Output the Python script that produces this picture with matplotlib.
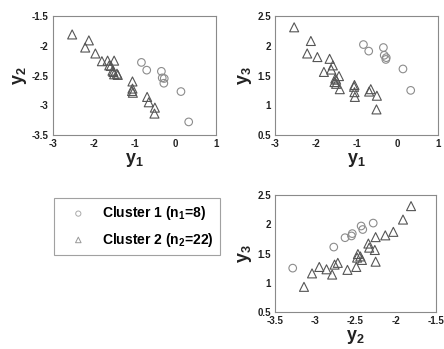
import matplotlib

matplotlib.use("Agg")
import matplotlib.pyplot as plt
import numpy as np

plt.rcParams["font.family"] = ["Liberation Sans", "DejaVu Sans"]
plt.rcParams["mathtext.fontset"] = "custom"
plt.rcParams["mathtext.rm"] = "Liberation Sans:bold"
plt.rcParams["mathtext.bf"] = "Liberation Sans:bold"
plt.rcParams["mathtext.default"] = "bf"

# Cluster 1 (circles)
c1_y1 = [-0.83, -0.70, -0.34, -0.32, -0.27, -0.28, 0.14, 0.33]
c1_y2 = [-2.28, -2.41, -2.43, -2.54, -2.55, -2.63, -2.77, -3.28]
c1_y3 = [2.02, 1.91, 1.97, 1.84, 1.80, 1.77, 1.61, 1.25]

# Cluster 2 (triangles)
c2_y1 = [-2.53, -2.12, -2.21, -1.96, -1.66, -1.58, -1.62, -1.80, -1.43, -1.50,
         -1.54, -1.41, -1.05, -1.05, -1.04, -0.69, -0.65, -0.50, -0.51, -1.50,
         -1.06, -1.52]
c2_y2 = [-1.81, -1.91, -2.03, -2.13, -2.25, -2.34, -2.33, -2.26, -2.47, -2.48,
         -2.42, -2.49, -2.72, -2.60, -2.79, -2.86, -2.95, -3.04, -3.14, -2.25,
         -2.76, -2.44]
c2_y3 = [2.31, 2.08, 1.87, 1.81, 1.78, 1.67, 1.60, 1.56, 1.49, 1.43,
         1.39, 1.27, 1.34, 1.22, 1.14, 1.23, 1.27, 1.16, 0.93, 1.36,
         1.31, 1.45]

labels = ["Cluster 1 (n$_1$=8)", "Cluster 2 (n$_2$=22)"]

W, H = 444, 349
fig = plt.figure(figsize=(W / 100, H / 100), dpi=100)


def make_ax(x0, y0, x1, y1):
    return fig.add_axes([x0 / W, 1 - y1 / H, (x1 - x0) / W, (y1 - y0) / H])


def style(ax, xlim, ylim, xticks, yticks, xlabel, ylabel):
    ax.set_xlim(*xlim)
    ax.set_ylim(*ylim)
    ax.set_xticks(xticks)
    ax.set_yticks(yticks)
    ax.set_xticklabels([f"{t:g}" for t in xticks])
    ax.set_yticklabels([f"{t:g}" for t in yticks])
    ax.tick_params(length=0, pad=3, labelsize=7, colors="#222222")
    for lab in ax.get_xticklabels() + ax.get_yticklabels():
        lab.set_fontweight("bold")
    for s in ax.spines.values():
        s.set_color("#8a8a8a")
        s.set_linewidth(0.8)
    ax.set_xlabel(xlabel, fontsize=13, fontweight="bold", labelpad=1, color="#222222")
    ax.set_ylabel(ylabel, fontsize=13, fontweight="bold", labelpad=2, color="#222222")


circ = dict(marker="o", s=30, facecolors="none", edgecolors="#8c8c8c", linewidths=0.8)
tri = dict(marker="^", s=42, facecolors="none", edgecolors="#555555", linewidths=0.8)

ax1 = make_ax(53, 16, 216, 135)
ax1.scatter(c1_y1, c1_y2, **circ)
ax1.scatter(c2_y1, c2_y2, **tri)
style(ax1, (-3, 1), (-3.5, -1.5), [-3, -2, -1, 0, 1], [-3.5, -3, -2.5, -2, -1.5],
      "y$_1$", "y$_2$")

ax2 = make_ax(275, 16, 438, 135)
ax2.scatter(c1_y1, c1_y3, **circ)
ax2.scatter(c2_y1, c2_y3, **tri)
style(ax2, (-3, 1), (0.5, 2.5), [-3, -2, -1, 0, 1], [0.5, 1, 1.5, 2, 2.5],
      "y$_1$", "y$_3$")

ax3 = make_ax(275, 195, 436, 312)
ax3.scatter(c1_y2, c1_y3, **circ)
ax3.scatter(c2_y2, c2_y3, **tri)
style(ax3, (-3.5, -1.5), (0.5, 2.5), [-3.5, -3, -2.5, -2, -1.5], [0.5, 1, 1.5, 2, 2.5],
      "y$_2$", "y$_3$")

h1 = ax1.scatter([], [], marker="o", s=14, facecolors="none", edgecolors="#aaaaaa", linewidths=0.7)
h2 = ax1.scatter([], [], marker="^", s=16, facecolors="none", edgecolors="#999999", linewidths=0.7)
leg = fig.legend([h1, h2], labels, loc="upper left", bbox_to_anchor=(54 / W, 1 - 198 / H),
                 frameon=True, fancybox=False, edgecolor="#8a8a8a",
                 prop={"weight": "bold", "size": 10}, handletextpad=0.4,
                 borderpad=0.45, labelspacing=0.6, handlelength=2.6, borderaxespad=0)
leg.get_frame().set_linewidth(0.8)

fig.savefig("out.png", dpi=100)
